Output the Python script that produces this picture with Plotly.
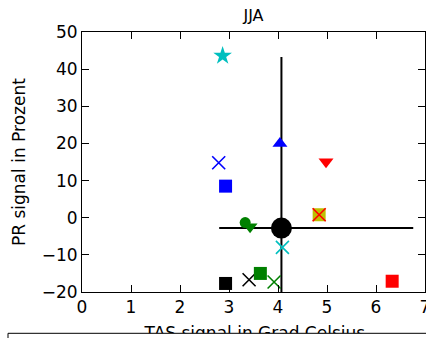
import plotly.graph_objects as go

# JJA change signals: temperature (TAS, Grad Celsius) vs precipitation (PR, Prozent)
tas_signal = [2.87, 2.79, 2.93, 4.04, 4.98, 4.84, 4.84, 3.33, 3.43, 4.09, 2.93, 3.41, 3.64, 3.92, 6.33]
pr_signal = [43.6, 14.8, 8.5, 20.0, 15.1, 0.8, 0.8, -1.3, -2.4, -8.0, -17.7, -16.7, -15.0, -17.3, -17.1]

# Ensemble mean and spread of the signals
mean_tas = 4.07
mean_pr = -2.8
tas_spread = [2.80, 6.76]
pr_spread = [-30.0, 43.3]

# Tick values
x_ticks = [0, 1, 2, 3, 4, 5, 6, 7]
y_ticks = [-20, -10, 0, 10, 20, 30, 40, 50]

# Marker styles, one per simulation
symbols = ["star", "x-thin", "square", "triangle-up", "triangle-down", "square", "x-thin",
           "circle", "triangle-down", "x-thin", "square", "x-thin", "square", "x-thin", "square"]
colors = ["#00BFBF", "#0000FF", "#0000FF", "#0000FF", "#FF0000", "#BFBF00", "#FF0000",
          "#008000", "#008000", "#00BFBF", "#000000", "#000000", "#008000", "#008000", "#FF0000"]
sizes = [14, 13, 13, 13, 13, 13, 13, 11, 13, 13, 13, 13, 13, 13, 13]
line_w = [1.6 if s == "x-thin" else 0 for s in symbols]

W, H = 426, 338
# axes box in pixels: left, right, top, bottom
L, R, T, B = 82, 425, 32, 292

fig = go.Figure()

# spread lines through the ensemble mean
fig.add_trace(go.Scatter(x=[mean_tas, mean_tas], y=pr_spread, mode="lines",
                         line=dict(color="black", width=2), hoverinfo="skip"))
fig.add_trace(go.Scatter(x=tas_spread, y=[mean_pr, mean_pr], mode="lines",
                         line=dict(color="black", width=2), hoverinfo="skip"))

# ensemble mean
fig.add_trace(go.Scatter(x=[mean_tas], y=[mean_pr], mode="markers",
                         marker=dict(symbol="circle", size=21, color="black", opacity=1)))

# individual simulations
fig.add_trace(go.Scatter(
    x=tas_signal, y=pr_signal, mode="markers",
    marker=dict(symbol=symbols, color=colors, size=sizes, opacity=1,
                line=dict(color=colors, width=line_w)),
))

# x-axis title on a hidden strip below the axes, so the legend frame can sit over it
fig.add_trace(go.Scatter(x=[0.504], y=[0.08], mode="text", text=["TAS signal in Grad Celsius"],
                         textfont=dict(family="DejaVu Sans", size=17, color="black"),
                         textposition="middle center", cliponaxis=False, hoverinfo="skip",
                         xaxis="x2", yaxis="y2"))

# legend frame below the axes
fig.add_shape(type="rect", xref="paper", yref="paper", x0=8 / W, x1=1.2, y0=-0.3,
              y1=(H - 333.3) / H,
              line=dict(color="black", width=1), fillcolor="white", layer="above")

# y-axis title
fig.add_annotation(text="PR signal in Prozent", textangle=-90, xref="paper", yref="paper",
                   x=19 / W, y=(H - 162) / H, xanchor="center", yanchor="middle",
                   showarrow=False, font=dict(family="DejaVu Sans", size=17, color="black"))

axis_common = dict(showline=True, linecolor="black", linewidth=1, mirror="ticks",
                   ticks="inside", ticklen=7, tickwidth=1, tickcolor="black",
                   showgrid=False, zeroline=False, ticklabeloverflow="allow",
                   automargin=False,
                   tickfont=dict(family="DejaVu Sans", size=17, color="black"))

fig.update_layout(
    width=W, height=H,
    margin=dict(l=0, r=0, t=0, b=0, pad=0, autoexpand=False),
    paper_bgcolor="white", plot_bgcolor="white",
    font=dict(family="DejaVu Sans", size=17, color="black"),
    showlegend=False,
    title=dict(text="JJA", x=0.5 * (L + R) / W, xref="container", xanchor="center",
               y=1 - 15 / H, yref="container", yanchor="middle",
               font=dict(family="DejaVu Sans", size=16, color="black")),
    xaxis=dict(range=[0, 7], tickvals=x_ticks, domain=[L / W, R / W], anchor="y",
               **axis_common),
    yaxis=dict(range=[-20, 50], tickvals=y_ticks, domain=[(H - B) / H, (H - T) / H],
               anchor="x", **axis_common),
    xaxis2=dict(range=[0, 1], domain=[L / W, R / W], anchor="y2", visible=False),
    yaxis2=dict(range=[0, 1], domain=[0, (H - B) / H], anchor="x2", visible=False),
)

fig.write_html("out.html", config={"displayModeBar": False})
